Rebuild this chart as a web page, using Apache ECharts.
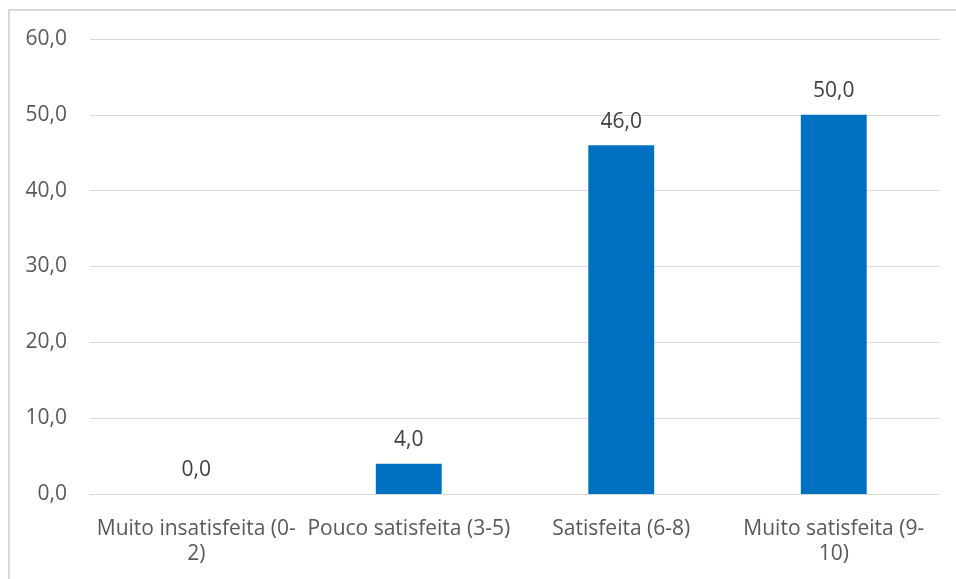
<!DOCTYPE html>
<html>
<head>
<meta charset="utf-8">
<script src="https://cdn.jsdelivr.net/npm/echarts@6/dist/echarts.min.js"></script>
<style>
  html, body { margin: 0; padding: 0; background: #fff; }
  #frame { position: absolute; left: 8px; top: 9px; width: 960px; height: 600px; border: 2px solid #d9d9d9; box-sizing: border-box; }
  #chart { position: absolute; left: 0; top: 0; width: 956px; height: 579px; }
</style>
</head>
<body>
<div id="frame"></div>
<div id="chart"></div>
<script>
const categories = ['Muito insatisfeita (0-\n2)', 'Pouco satisfeita (3-5)', 'Satisfeita (6-8)', 'Muito satisfeita (9-\n10)'];
const values = [0.0, 4.0, 46.0, 50.0];

const fontFamily = 'Open Sans, Liberation Sans, sans-serif';
const fmt = v => Number(v).toFixed(1).replace('.', ',');

const chart = echarts.init(document.getElementById('chart'), null, { renderer: 'canvas' });
chart.setOption({
  animation: false,
  grid: { left: 90, right: 16, top: 39, bottom: 85, containLabel: false },
  xAxis: {
    type: 'category',
    data: categories,
    axisLine: { show: true, lineStyle: { color: '#d9d9d9', width: 1 } },
    axisTick: { show: false },
    axisLabel: { color: '#595959', fontSize: 21, fontFamily, margin: 23, lineHeight: 25, interval: 0 }
  },
  yAxis: {
    type: 'value',
    min: 0, max: 60, interval: 10,
    axisLine: { show: false },
    axisTick: { show: false },
    splitLine: { lineStyle: { color: '#d9d9d9', width: 1 } },
    axisLabel: { color: '#595959', fontSize: 21, fontFamily, margin: 23, formatter: fmt }
  },
  series: [{
    type: 'bar',
    data: values,
    barWidth: '31%',
    itemStyle: { color: '#0070c0' },
    label: { show: true, position: 'top', distance: 13, color: '#404040', fontSize: 21, fontFamily, formatter: p => fmt(p.value) }
  }]
});
</script>
</body>
</html>
